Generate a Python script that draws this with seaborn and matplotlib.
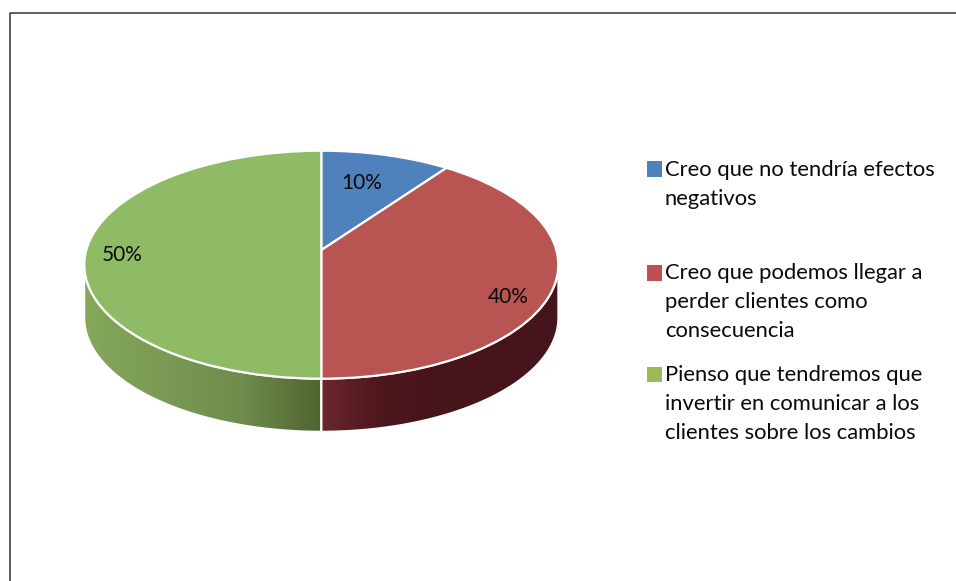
import numpy as np
import seaborn as sns
import matplotlib.pyplot as plt
from matplotlib.lines import Line2D
from matplotlib.patches import Polygon, Rectangle
from matplotlib.transforms import Transform

# Share of answers per option
labels = [
    "Creo que no tendría efectos\nnegativos",
    "Creo que podemos llegar a\nperder clientes como\nconsecuencia",
    "Pienso que tendremos que\ninvertir en comunicar a los\nclientes sobre los cambios",
]
values = [10, 40, 50]
colors = ["#4f81bd", "#c0504d", "#9bbb59"]
top_colors = ["#4f81bd", "#b85452", "#90bb66"]

W, H = 956, 581
CX, CY, RX, RY, DEPTH = 321.3, 264.7, 237, 114, 53
TILT = 0.128  # the slices meet above the middle of the ellipse

sns.set_theme(style="white")
plt.rcParams["font.family"] = ["Lato", "DejaVu Sans"]


class Perspective(Transform):
    # keeps the unit circle, moves its centre up by TILT
    input_dims = output_dims = 2

    def transform_non_affine(self, xy):
        xy = np.asarray(xy)
        d = 1 + TILT * xy[:, 1]
        return np.c_[xy[:, 0] * np.sqrt(1 - TILT**2) / d, (xy[:, 1] + TILT) / d]


def px(x, y):
    # picture pixels to pie units, one unit is the radius on each axis
    return (x - CX) / RX, (CY - y) / RY


fig = plt.figure(figsize=(W / 100, H / 100), dpi=100, facecolor="white")
ax = fig.add_axes([0, 0, 1, 1])

wedges, _, pct = ax.pie(
    values,
    colors=top_colors,
    startangle=90,
    counterclock=False,
    autopct="%d%%",
    wedgeprops={"edgecolor": "white", "linewidth": 1.6},
    textprops={"fontsize": 15, "color": "#0a0a0a"},
)
ax.set_aspect("auto")
for w in wedges:
    w.set_transform(Perspective() + ax.transData)

# Label positions differ per slice in the original
for t, pos in zip(pct, [(362, 183), (508, 297), (122, 255)]):
    t.set_position(px(*pos))

# Front wall of the disc, one gradient per visible slice
wall_maps = {
    1: sns.blend_palette(["#6a272c", "#4e161d", "#46141b", "#46141b", "#46141b"], as_cmap=True),
    2: sns.blend_palette(["#85a85a", "#7a9a55", "#6f8c4c", "#4f6530"], as_cmap=True),
}
depth = DEPTH / RY
edges = 90 - np.cumsum([0] + values) * 3.6
for i, cmap in wall_maps.items():
    a0 = max(edges[i + 1], -180)
    a1 = min(edges[i], 0)
    t = np.radians(np.linspace(a0, a1, 120))
    xs, ys = np.cos(t), np.sin(t)
    outline = np.r_[np.c_[xs, ys], np.c_[xs, ys - depth][::-1]]
    poly = Polygon(outline, closed=True, facecolor="none", edgecolor="white", linewidth=1.4, zorder=0.5)
    ax.add_patch(poly)
    im = ax.imshow(
        np.linspace(0, 1, 256).reshape(1, -1),
        cmap=cmap,
        extent=(xs.min(), xs.max(), -1 - depth, 0),
        aspect="auto",
        zorder=0.4,
    )
    im.set_clip_path(poly)

ax.set_xlim(px(0, 0)[0], px(W, 0)[0])
ax.set_ylim(px(0, H)[1], px(0, 0)[1])
ax.axis("off")

# Legend entries are unevenly spaced, so each is placed by hand
to_fig = fig.transFigure
for label, color, (sq_y, text_y) in zip(labels, colors, [(169, 160), (273, 263), (374, 365)]):
    fig.add_artist(Rectangle((646.5 / W, 1 - (sq_y + 7.5) / H), 15 / W, 15 / H, transform=to_fig, facecolor=color, edgecolor="none"))
    fig.text(665 / W, 1 - text_y / H, label, fontsize=15.8, color="#0a0a0a", va="top", ha="left", linespacing=1.56)

# Page frame, open on the right and at the bottom
fig.add_artist(Line2D([9.5 / W, 9.5 / W, 1], [0, 1 - 12.5 / H, 1 - 12.5 / H], transform=to_fig, color="#333333", linewidth=1.1))

fig.savefig("out.png", dpi=100)
